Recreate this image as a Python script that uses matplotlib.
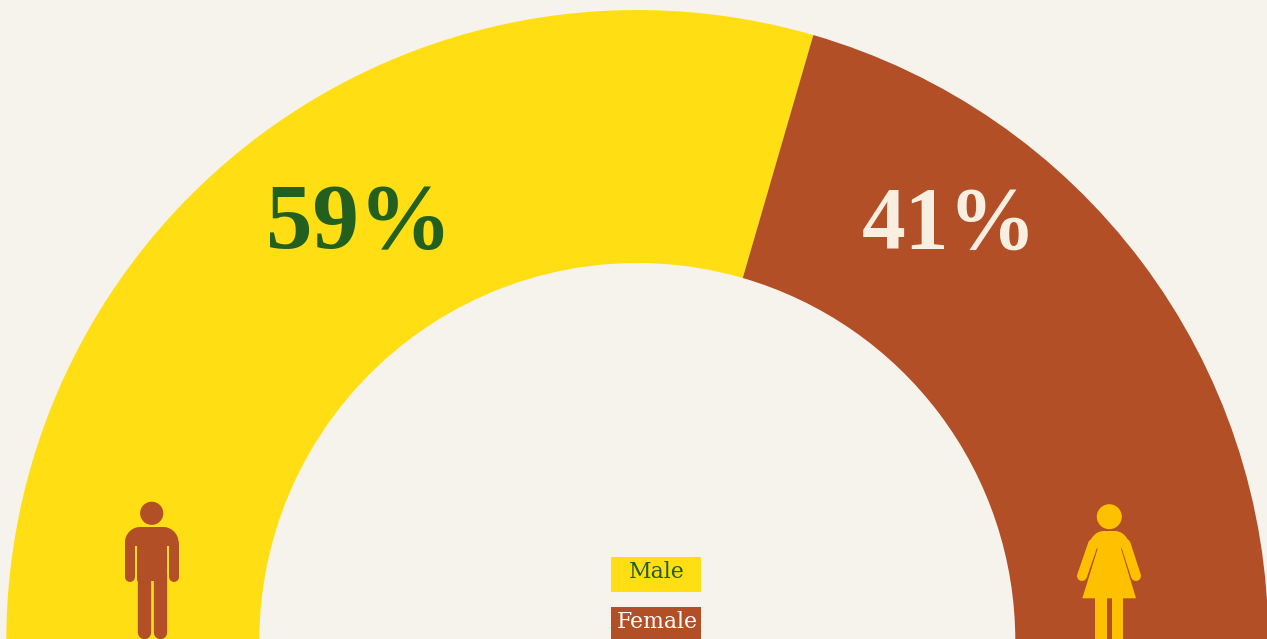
import matplotlib.pyplot as plt
from matplotlib.patches import Circle, PathPatch, Rectangle
from matplotlib.path import Path

# semi donut, the last slice is hidden and takes the lower half
labels = ['Male', 'Female']
shares = [59, 41]
pct_labels = ['59%', '41%']
colors = ['#FFDF14', '#B34F26']
bg = '#F6F3ED'
green = '#235F1E'
cream = '#F8EFE0'
icon_yellow = '#FFC000'

fig = plt.figure(figsize=(12.67, 6.39), dpi=100, facecolor=bg)
ax = fig.add_axes([0, 0, 1, 1])

# axes in pixels, y going down
wedges, _ = ax.pie(shares + [sum(shares)], colors=colors + ['none'], center=(637.3, 641), radius=631,
                   startangle=180, counterclock=True, wedgeprops={'width': 253, 'linewidth': 0})
ax.set_aspect('auto')
ax.set_xlim(0, 1267)
ax.set_ylim(639, 0)
ax.axis('off')

serif = 'Liberation Serif'
ax.text(359, 226, pct_labels[0], color=green, fontsize=67, family=serif, weight='bold', ha='center', va='center')
ax.text(949, 226, pct_labels[1], color=cream, fontsize=63, family=serif, weight='bold', ha='center', va='center')

# legend boxes
ax.add_patch(Rectangle((611, 557), 90, 35, color=colors[0], lw=0))
ax.add_patch(Rectangle((611, 607), 90, 34, color=colors[1], lw=0))
ax.text(657, 572, labels[0], color=green, fontsize=15.8, family='DejaVu Serif', ha='center', va='center')
ax.text(657, 622, labels[1], color='white', fontsize=15.8, family='DejaVu Serif', ha='center', va='center')

M, L, C = Path.MOVETO, Path.LINETO, Path.CURVE4

# man icon
man = colors[1]
ax.add_patch(Circle((151.7, 513.3), 11.6, color=man, lw=0))
shoulders = Path([(125, 546), (125, 542), (125, 534), (132, 527), (140, 527), (163.5, 527), (171.5, 527),
                  (178.5, 534), (178.5, 542), (178.5, 546), (125, 546)],
                 [M, L, C, C, C, L, C, C, C, L, L])
ax.add_patch(PathPatch(shoulders, color=man, lw=0))
ax.add_patch(Rectangle((137.3, 540), 29.3, 41, color=man, lw=0))
for x in [130, 173.5]:
    ax.plot([x, x], [544, 577], color=man, lw=7.2, solid_capstyle='round')
for x in [144, 159.6]:
    ax.plot([x, x], [575, 632], color=man, lw=9.6, solid_capstyle='round')

# woman icon
ax.add_patch(Circle((1109.3, 516.7), 12.5, color=icon_yellow, lw=0))
dress = Path([(1088, 546), (1091, 537), (1096, 531), (1104, 531), (1114.6, 531), (1122.6, 531), (1127.6, 537),
              (1130.6, 546), (1121, 548.5), (1136, 598.3), (1082.3, 598.3), (1097.7, 548.5), (1088, 546)],
             [M, C, C, C, L, C, C, C, L, L, L, L, L])
ax.add_patch(PathPatch(dress, color=icon_yellow, lw=0))
for xs, ys in [([1082, 1093], [576, 544]), ([1136, 1125.6], [576, 544])]:
    ax.plot(xs, ys, color=icon_yellow, lw=7.2, solid_capstyle='round')
ax.add_patch(Rectangle((1095, 597), 11.7, 45, color=icon_yellow, lw=0))
ax.add_patch(Rectangle((1111.7, 597), 11.7, 45, color=icon_yellow, lw=0))

fig.savefig('out.png', dpi=100, facecolor=bg)
